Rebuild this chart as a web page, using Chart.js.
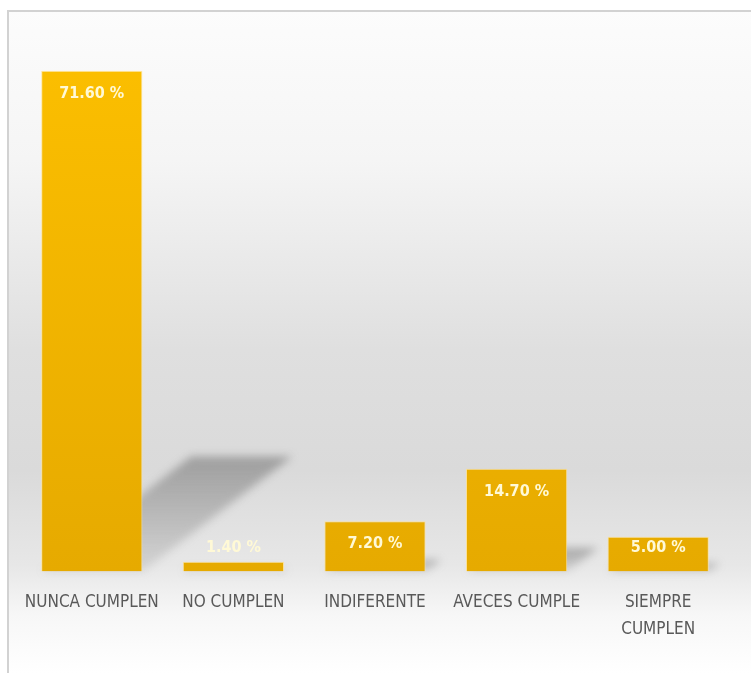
<!DOCTYPE html>
<html>
<head>
<meta charset="utf-8">
<script src="https://cdn.jsdelivr.net/npm/chart.js@4/dist/chart.umd.min.js"></script>
<style>
  html, body { margin: 0; padding: 0; background: #ffffff; }
  #wrap { position: absolute; left: 0; top: 0; width: 751px; height: 673px; }
</style>
</head>
<body>
<div id="wrap"><canvas id="c" width="751" height="673"></canvas></div>
<script>
const categories = ['NUNCA CUMPLEN', 'NO CUMPLEN', 'INDIFERENTE', 'AVECES CUMPLE', ['SIEMPRE', 'CUMPLEN']];
const values = [71.60, 1.40, 7.20, 14.70, 5.00];
const valueLabels = ['71.60 %', '1.40 %', '7.20 %', '14.70 %', '5.00 %'];

const FONT = "'DejaVu Sans Condensed', 'Liberation Sans Narrow', 'Liberation Sans', sans-serif";

const bgPlugin = {
  id: 'bg',
  beforeDraw(chart) {
    const ctx = chart.ctx;
    const H = chart.height, W = chart.width;
    ctx.save();
    ctx.fillStyle = '#ffffff';
    ctx.fillRect(0, 0, W, H);
    const g = ctx.createLinearGradient(0, 11, 0, H);
    const span = H - 11;
    const s = y => Math.max(0, Math.min(1, (y - 11) / span));
    g.addColorStop(0, '#fcfcfc');
    g.addColorStop(s(160), '#f5f5f5');
    g.addColorStop(s(350), '#dfdfdf');
    g.addColorStop(s(470), '#dadada');
    g.addColorStop(s(565), '#e7e7e7');
    g.addColorStop(s(615), '#f7f7f7');
    g.addColorStop(1, '#ffffff');
    ctx.fillStyle = g;
    ctx.fillRect(8, 11, W - 8, H - 11);
    ctx.strokeStyle = '#d2d2d2';
    ctx.lineWidth = 2;
    ctx.beginPath();
    ctx.moveTo(8, H);
    ctx.lineTo(8, 11);
    ctx.lineTo(W + 2, 11);
    ctx.stroke();
    ctx.restore();
  }
};

const shadowPlugin = {
  id: 'shadow',
  beforeDatasetsDraw(chart) {
    const ctx = chart.ctx;
    const meta = chart.getDatasetMeta(0);
    ctx.save();
    ctx.filter = 'blur(4px)';
    meta.data.forEach(el => {
      const p = el.getProps(['x', 'y', 'base', 'width'], true);
      const h = p.base - p.y;
      const sh = h * 0.23;
      const dx = sh * 1.3;
      const x0 = p.x - p.width / 2, x1 = p.x + p.width / 2;
      const g = ctx.createLinearGradient(0, p.base, 0, p.base - sh);
      g.addColorStop(0, 'rgba(110,110,110,0.15)');
      g.addColorStop(1, 'rgba(100,100,100,0.5)');
      ctx.fillStyle = g;
      ctx.beginPath();
      ctx.moveTo(x0, p.base);
      ctx.lineTo(x1, p.base);
      ctx.lineTo(x1 + dx, p.base - sh);
      ctx.lineTo(x0 + dx, p.base - sh);
      ctx.closePath();
      ctx.fill();
    });
    ctx.restore();
  }
};

const labelPlugin = {
  id: 'vlabels',
  afterDatasetsDraw(chart) {
    const ctx = chart.ctx;
    const meta = chart.getDatasetMeta(0);
    ctx.save();
    ctx.font = "bold 16px " + FONT;
    ctx.textAlign = 'center';
    ctx.textBaseline = 'middle';
    ctx.fillStyle = '#fff9d6';
    meta.data.forEach((el, i) => {
      const p = el.getProps(['x', 'y', 'base'], true);
      const y = Math.min(p.y + 23, p.base - 24);
      ctx.fillText(valueLabels[i], p.x, y);
    });
    ctx.restore();
  }
};

new Chart(document.getElementById('c'), {
  type: 'bar',
  data: {
    labels: categories,
    datasets: [{
      data: values,
      backgroundColor: (ctx) => {
        const ch = ctx.chart;
        const a = ch.chartArea;
        if (!a) return '#f5b800';
        const g = ch.ctx.createLinearGradient(0, a.top, 0, a.bottom);
        g.addColorStop(0, '#fcbf00');
        g.addColorStop(1, '#e6aa00');
        return g;
      },
      borderColor: 'rgba(255,225,140,0.8)',
      borderWidth: 1,
      categoryPercentage: 1,
      barPercentage: 0.715
    }]
  },
  options: {
    responsive: false,
    animation: false,
    events: [],
    layout: { padding: { left: 21, right: 22, top: 47, bottom: 13 } },
    plugins: { legend: { display: false }, tooltip: { enabled: false } },
    scales: {
      x: {
        grid: { display: false, drawTicks: false },
        border: { display: false },
        ticks: {
          color: '#595959',
          font: { family: FONT, size: 17, lineHeight: 1.6 },
          padding: 17,
          maxRotation: 0,
          autoSkip: false
        }
      },
      y: {
        display: false,
        min: 0,
        max: 75
      }
    }
  },
  plugins: [bgPlugin, shadowPlugin, labelPlugin]
});
</script>
</body>
</html>
